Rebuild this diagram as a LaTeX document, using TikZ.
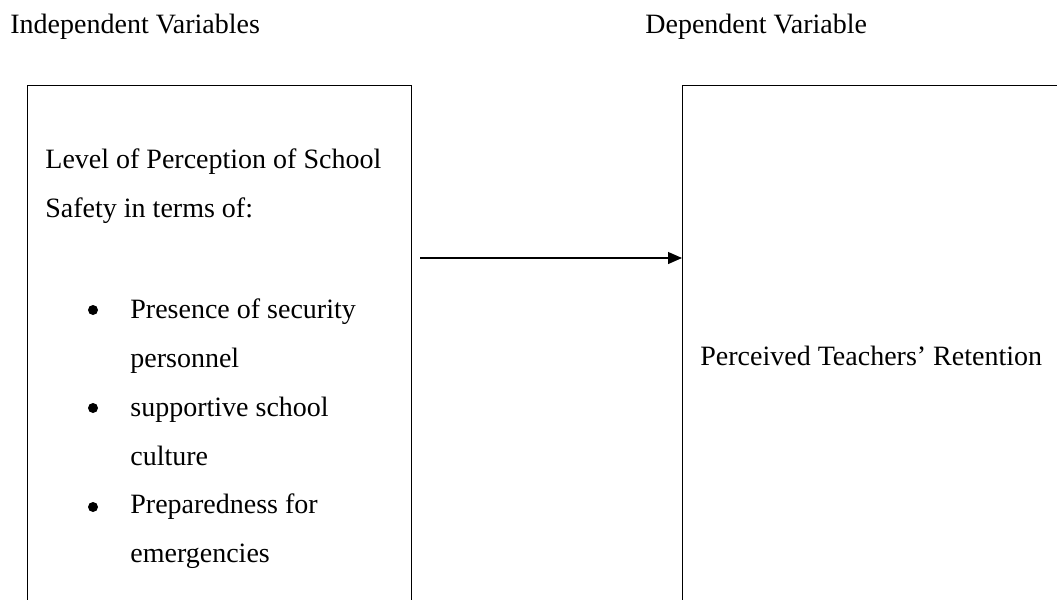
\documentclass[tikz,border=0pt]{standalone}
\usepackage{fontspec}
\setmainfont{Liberation Serif}
\usetikzlibrary{arrows.meta}

\begin{document}
\begin{tikzpicture}[x=0.5pt, y=-0.5pt,
    txt/.style={
        anchor=base west, align=left, inner sep=0pt,
        font=\fontsize{14}{24.2}\selectfont
    },
    frame/.style={draw, line width=0.6pt, inner sep=0pt,
        anchor=north west},
    dot/.style={circle, fill, inner sep=0pt, minimum size=5pt},
    arr/.style={-{Triangle[length=7pt, width=6pt]},
        line width=0.6pt}
]
\clip (0,0) rectangle (1057,600);

\node[txt] (ivlabel) at (10,33)  {Independent Variables};
\node[txt] (dvlabel) at (645,33) {Dependent Variable};

\node[frame, minimum width=192pt, minimum height=280pt]
    (ivbox) at (27,85) {};
\node[frame, minimum width=220pt, minimum height=280pt]
    (dvbox) at (682,85) {};

% base of a two-line node is the base of its last line
\node[txt] (level) at (45,217)
    {Level of Perception of School\\Safety in terms of:};

\node[dot] (d1) at (93,310) {};
\node[dot] (d2) at (93,408) {};
\node[dot] (d3) at (93,507) {};
\node[txt] (item1) at (130,367) {Presence of security\\personnel};
\node[txt] (item2) at (130,465) {supportive school\\culture};
\node[txt] (item3) at (130,562) {Preparedness for\\emergencies};

\node[txt] (retention) at (700,365) {Perceived Teachers' Retention};

\coordinate (tail) at (420,258);
\draw[arr] (tail) -- (tail -| dvbox.west);
\end{tikzpicture}
\end{document}
